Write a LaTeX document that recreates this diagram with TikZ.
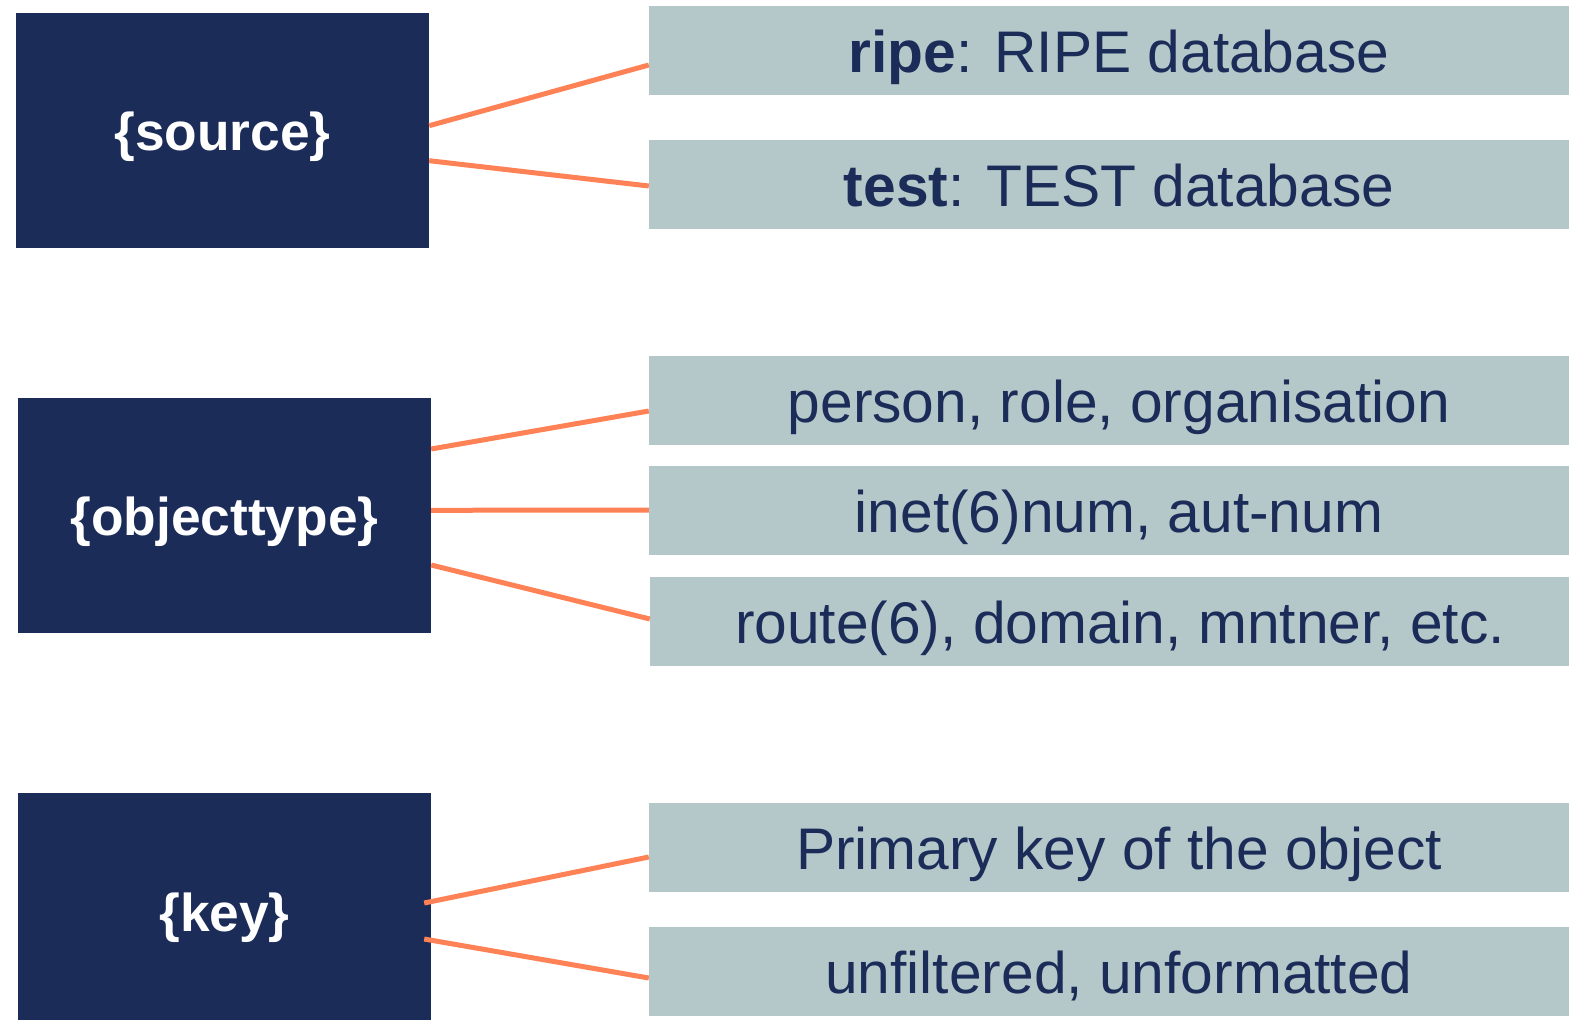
\documentclass[tikz,border=0pt]{standalone}
\usepackage{fontspec}
\setmainfont{Liberation Sans}
\definecolor{navy}{HTML}{1B2C59}
\definecolor{greyteal}{HTML}{B4C7C9}
\definecolor{coral}{HTML}{FF8257}
\begin{document}
\begin{tikzpicture}[x=1pt,y=-1pt,
  lbox/.style={fill=navy,text=white,inner sep=0pt,minimum width=413pt,minimum height=235pt,
    text height=41pt,text depth=0pt,font=\fontsize{53.3}{60}\selectfont\bfseries},
  rbox/.style={fill=greyteal,text=navy,inner sep=0pt,minimum width=940pt,minimum height=89pt,
    text height=44pt,text depth=0pt,font=\fontsize{58.7}{64}\selectfont},
  conn/.style={draw=coral,line width=5pt}]
\useasboundingbox (0,0) rectangle (1569,1020);
% left boxes
\node[lbox] (src) at (222.5,130) {\{source\}};
\node[lbox] (obj) at (224.5,515) {\{objecttype\}};
\node[lbox] (key) at (224.5,910.5) {\{key\}};
% right boxes
\node[rbox] (ripe) at (1119,50.5) {\textbf{ripe}: RIPE database};
\node[rbox] (test) at (1119,184.5) {\textbf{test}: TEST database};
\node[rbox] (person) at (1119,400) {person, role, organisation};
\node[rbox] (inet) at (1119,510) {inet(6)num, aut-num};
\node[rbox] (route) at (1120,621) {route(6), domain, mntner, etc.};
\node[rbox] (primary) at (1119,847.5) {Primary key of the object};
\node[rbox] (unf) at (1119,971.5) {unfiltered, unformatted};
% connectors
\draw[conn] ([yshift=4.3pt]src.east) -- ([yshift=-14.5pt]ripe.west);
\draw[conn] ([yshift=-30.7pt]src.east) -- ([yshift=-1.5pt]test.west);
\draw[conn] ([yshift=66pt]obj.east) -- ([yshift=-11pt]person.west);
\draw[conn] ([yshift=4.7pt]obj.east) -- ([yshift=0pt]inet.west);
\draw[conn] ([yshift=-50pt]obj.east) -- ([yshift=2pt]route.west);
\draw[conn] ([xshift=-7pt,yshift=7.5pt]key.east) -- ([yshift=-9.5pt]primary.west);
\draw[conn] ([xshift=-7pt,yshift=-28.5pt]key.east) -- ([yshift=-6.5pt]unf.west);
\end{tikzpicture}
\end{document}
